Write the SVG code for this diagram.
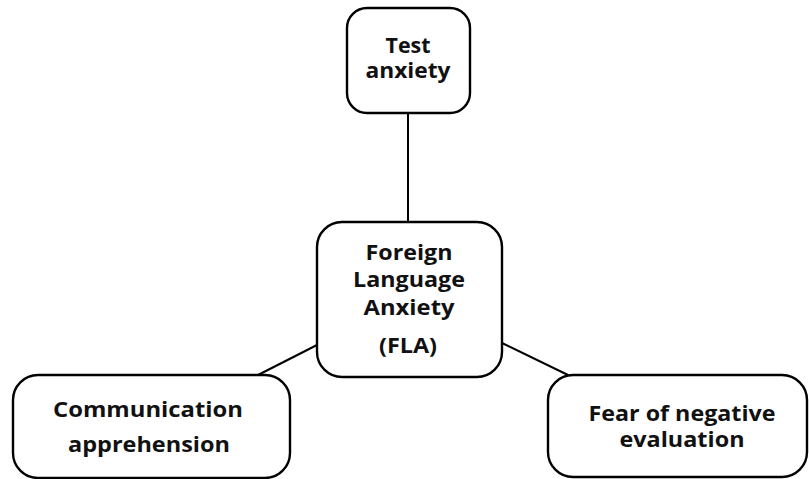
<svg xmlns="http://www.w3.org/2000/svg" width="809" height="479" viewBox="0 0 809 479">
<style>
.box{fill:#fff;stroke:#000;stroke-width:2.4}
.ln{stroke:#000;stroke-width:2;fill:none}
text{font-family:"Open Sans","Liberation Sans",sans-serif;font-weight:700;font-size:21px;fill:#111;text-anchor:middle}
</style>
<rect width="809" height="479" fill="#fff"/>
<g id="connectors">
<line class="ln" x1="408" y1="113" x2="408" y2="222"/>
<line class="ln" x1="317" y1="345" x2="258" y2="375"/>
<line class="ln" x1="502" y1="343" x2="568" y2="375"/>
</g>
<g id="test-anxiety">
<rect class="box" x="347" y="8" width="123" height="105" rx="20"/>
<text x="408" y="53" textLength="45" lengthAdjust="spacingAndGlyphs">Test</text>
<text x="408" y="78" textLength="85" lengthAdjust="spacingAndGlyphs">anxiety</text>
</g>
<g id="fla">
<rect class="box" x="317" y="222" width="185" height="155" rx="25"/>
<text x="409" y="260" textLength="87" lengthAdjust="spacingAndGlyphs">Foreign</text>
<text x="409" y="287" textLength="112" lengthAdjust="spacingAndGlyphs">Language</text>
<text x="409" y="315" textLength="91" lengthAdjust="spacingAndGlyphs">Anxiety</text>
<text x="408" y="353" textLength="58" lengthAdjust="spacingAndGlyphs">(FLA)</text>
</g>
<g id="communication">
<rect class="box" x="13" y="375" width="277" height="103" rx="25"/>
<text x="148" y="417" textLength="190" lengthAdjust="spacingAndGlyphs">Communication</text>
<text x="149" y="452" textLength="162" lengthAdjust="spacingAndGlyphs">apprehension</text>
</g>
<g id="fear">
<rect class="box" x="548" y="375" width="259" height="102" rx="25"/>
<text x="682" y="421" textLength="187" lengthAdjust="spacingAndGlyphs">Fear of negative</text>
<text x="682" y="447" textLength="125" lengthAdjust="spacingAndGlyphs">evaluation</text>
</g>
</svg>
